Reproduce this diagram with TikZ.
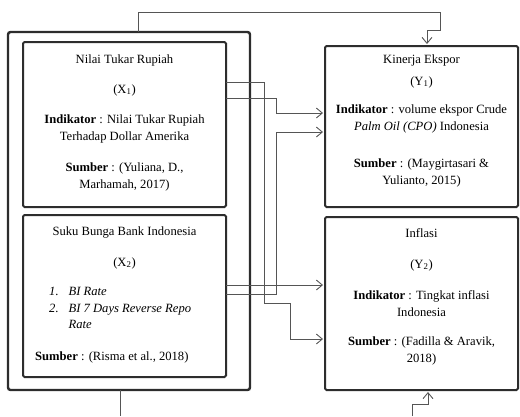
\documentclass[tikz,border=0pt]{standalone}
\usepackage{fontspec}
\setmainfont{Liberation Serif}
\usepackage{tikz}
\usetikzlibrary{arrows.meta}
\definecolor{BoxLine}{RGB}{45,45,45}
\definecolor{LinkGray}{RGB}{85,85,85}
\tikzset{
  box/.style={draw=BoxLine,fill=white,line width=2pt,rounded corners=1.5pt,
    inner sep=0pt,outer sep=0pt},
  frame/.style={box,line width=2.4pt,rounded corners=2.5pt},
  link/.style={draw=LinkGray,line width=0.9pt},
  arr/.style={link,-{Straight Barb[length=6pt,width=10pt,line width=0.9pt]},shorten >=2pt},
  txt/.style={align=center,inner sep=0pt},
}
\begin{document}
\begin{tikzpicture}[x=1pt,y=-1pt,font=\fontsize{12.6}{17}\selectfont]
        \useasboundingbox (0,0) rectangle (520,416);
        % boxes
        \node[frame,minimum width=242,minimum height=358] (outer) at (129,211) {};
        \node[box,minimum width=203,minimum height=165] (xa) at (124.5,124.5) {};
        \node[box,minimum width=203,minimum height=162] (xb) at (124.5,296) {};
        \node[box,minimum width=193,minimum height=161] (ya) at (421.5,126.5) {};
        \node[box,minimum width=193,minimum height=173] (yb) at (421.5,303.5) {};
        % texts X1
        \node[txt] (xat) at (124.5,60) {Nilai Tukar Rupiah};
        \node[txt] (xal) at (124.5,90) {(X\textsubscript{1})};
        \node[txt] (xai) at (124.5,129) {\textbf{Indikator} : Nilai Tukar Rupiah\\Terhadap Dollar Amerika};
        \node[txt] (xas) at (124.5,176.5) {\textbf{Sumber} : (Yuliana, D.,\\Marhamah, 2017)};
        % texts X2
        \node[txt] (xbt) at (124.5,232) {Suku Bunga Bank Indonesia};
        \node[txt] (xbl) at (124.5,263) {(X\textsubscript{2})};
        \node[txt,anchor=north west,align=left,font=\fontsize{12.6}{16.5}\selectfont\itshape] (xbi) at (49,284)
          {\begin{tabular}{@{}l@{\hspace{10pt}}l@{}}1. & BI Rate\\2. & BI 7 Days Reverse Repo\\ & Rate\end{tabular}};
        \node[txt,anchor=west] (xbs) at (35,357) {\textbf{Sumber} : (Risma et al., 2018)};
        % texts Y1
        \node[txt] (yat) at (421.5,60) {Kinerja Ekspor};
        \node[txt] (yal) at (421.5,82) {(Y\textsubscript{1})};
        \node[txt] (yai) at (421.5,118.5) {\textbf{Indikator} : volume ekspor Crude\\\textit{Palm Oil (CPO)} Indonesia};
        \node[txt] (yas) at (421.5,172.5) {\textbf{Sumber} : (Maygirtasari \&\\Yulianto, 2015)};
        % texts Y2
        \node[txt] (ybt) at (421.5,233) {Inflasi};
        \node[txt] (ybl) at (421.5,265) {(Y\textsubscript{2})};
        \node[txt] (ybi) at (421.5,303.5) {\textbf{Indikator} : Tingkat inflasi\\Indonesia};
        \node[txt] (ybs) at (421.5,351) {\textbf{Sumber} : (Fadilla \& Aravik,\\2018)};
        % connectors
        \coordinate (bl) at (120,416);
        \coordinate (br) at (412,416);
        \draw[arr] (outer.north -| 138,0) |- (440,12) |- (427,30) -- (ya.north -| 427,0);
        \draw[arr] (xa.east |- 0,82) -| (264,303) -| (290,339) -- (yb.west |- 0,339);
        \draw[arr] (xa.east |- 0,98) -| (276,113) -- (ya.west |- 0,113);
        \draw[arr] (xb.east |- 0,285) -- (yb.west |- 0,285);
        \draw[arr] (xb.east |- 0,294) -| (276,132) -- (ya.west |- 0,132);
        \draw[link] (outer.south -| bl) -- (bl);
        \draw[arr] (br) |- (428,404) -- (yb.south -| 428,0);
      \end{tikzpicture}
\end{document}
